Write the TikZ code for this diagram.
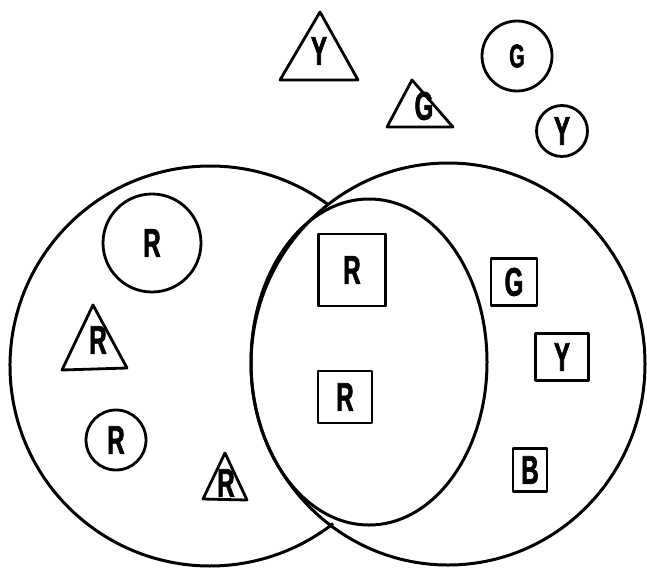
\documentclass[tikz,border=0pt]{standalone}
\usepackage{fontspec}
\newfontfamily\markfont[FakeStretch=0.6, FakeBold=1.6]{Liberation Sans Bold}
\usepackage{tikz}
\tikzstyle{setline} = [line width=3pt, draw=black]
\tikzstyle{piece} = [line width=2.8pt, draw=black, line join=round]
\tikzstyle{letter} = [font=\markfont\fontsize{40}{40}\selectfont, inner sep=0pt]
\tikzstyle{disc} = [circle, piece, letter]
\tikzstyle{tile} = [rectangle, piece, letter]

\begin{document}
\begin{tikzpicture}[x=1pt, y=-1pt]
        \useasboundingbox (0,0) rectangle (647,573);

        % Conjuntos
        \coordinate (izq) at (210,366);
        \coordinate (der) at (448,364);
        \coordinate (medio) at (369,362);
        \draw [setline] (izq) ++(-54:200) arc [start angle=-54, end angle=-308, radius=200];
        \draw [setline] (der) ellipse [x radius=197, y radius=201];
        \draw [setline] (medio) ellipse [x radius=118, y radius=163];

        % Figuras de fuera
        \draw [piece] (320,12) -- (280,80) -- (358,80) -- cycle;
        \node [letter] (ytri) at (319,51) {Y};
        \node [disc, minimum size=70pt, font=\markfont\fontsize{33}{33}\selectfont] (gdisc) at (517,56) {G};
        \draw [piece] (412,80) -- (387,127) -- (453,127) -- cycle;
        \node [letter] (gtri) at (424,106) {G};
        \node [disc, minimum size=51pt] (ydisc) at (562,131) {Y};

        % Conjunto de la izquierda
        \node [disc, minimum size=98pt] (rdisc1) at (152,243) {R};
        \draw [piece] (93,305) -- (62,370) -- (127,368) -- cycle;
        \node [letter] (rtri1) at (98,340) {R};
        \node [disc, minimum size=60pt] (rdisc2) at (116,440) {R};
        \draw [piece] (225,453) -- (203,499) -- (247,500) -- cycle;
        \node [letter] (rtri2) at (226,483) {R};

        % Cuadrados
        \node [tile, minimum width=67pt, minimum height=72pt] (rtile1) at (352,270) {R};
        \node [tile, minimum width=54pt, minimum height=52pt] (rtile2) at (345,397) {R};
        \node [tile, minimum width=46pt, minimum height=47pt] (gtile) at (514,282) {G};
        \node [tile, minimum width=53pt, minimum height=47pt] (ytile) at (562,357) {Y};
        \node [tile, minimum width=34pt, minimum height=43pt] (btile) at (530,470) {B};
    \end{tikzpicture}
\end{document}
